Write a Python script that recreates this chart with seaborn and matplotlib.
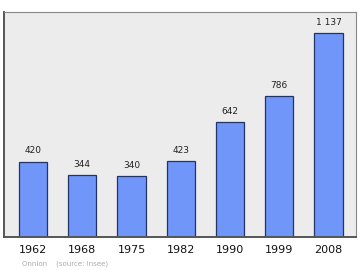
import matplotlib
matplotlib.use("Agg")
import matplotlib.pyplot as plt
import seaborn as sns
import pandas as pd

years = ["1962", "1968", "1975", "1982", "1990", "1999", "2008"]
population = [420, 344, 340, 423, 642, 786, 1137]
value_labels = ["420", "344", "340", "423", "642", "786", "1 137"]
footer = "Onnion    (source: Insee)"

sns.set_theme(style="white")
plt.rcParams['font.family'] = ['DejaVu Sans']

df = pd.DataFrame({"year": years, "pop": population})

fig = plt.figure(figsize=(3.6, 2.7), dpi=100)
ax = fig.add_axes([4/360, 1 - 237/270, 352/360, 225/270])
ax.set_facecolor("#ececec")

sns.barplot(data=df, x="year", y="pop", order=years, color="#7196fa",
            saturation=1, width=0.57, edgecolor="#223366", linewidth=0.9, ax=ax)

for i, (v, lab) in enumerate(zip(population, value_labels)):
    ax.text(i, v + 60, lab, ha="center", va="center", fontsize=6.5, color="#222222")

ax.set_xlim(-0.589, 6.558)
ax.set_ylim(0, 1254)
ax.set_yticks([])
ax.set_xlabel("")
ax.set_ylabel("")
ax.tick_params(axis="x", length=0, pad=6, labelsize=8, labelcolor="#111111")

for side in ["top", "right"]:
    ax.spines[side].set_color("#888888")
    ax.spines[side].set_linewidth(0.8)
for side in ["left", "bottom"]:
    ax.spines[side].set_color("#555555")
    ax.spines[side].set_linewidth(1.4)

fig.text(22/360, 1 - 264/270, footer, fontsize=5, color="#aaaaaa", ha="left", va="center")

fig.savefig("out.png", dpi=100, facecolor="white")
